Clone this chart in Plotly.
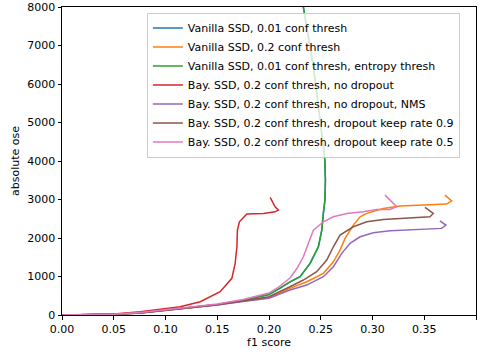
import plotly.graph_objects as go

names = [
    "Vanilla SSD, 0.01 conf thresh",
    "Vanilla SSD, 0.2 conf thresh",
    "Vanilla SSD, 0.01 conf thresh, entropy thresh",
    "Bay. SSD, 0.2 conf thresh, no dropout",
    "Bay. SSD, 0.2 conf thresh, no dropout, NMS",
    "Bay. SSD, 0.2 conf thresh, dropout keep rate 0.9",
    "Bay. SSD, 0.2 conf thresh, dropout keep rate 0.5",
]
colors = ["#1f77b4", "#ff7f0e", "#2ca02c", "#d62728", "#9467bd", "#8c564b", "#e377c2"]

green_f1 = [0, 0.03, 0.05, 0.0757, 0.10, 0.125, 0.15, 0.175, 0.20, 0.2107, 0.2203, 0.23, 0.2397,
            0.2477, 0.251, 0.2525, 0.2541, 0.2545, 0.254, 0.2525, 0.2429, 0.2332, 0.231]
green_ose = [0, 5, 20, 58, 125, 195, 275, 385, 530, 700, 860, 994, 1341,
             1772, 2205, 2639, 3000, 3503, 4000, 4400, 6443, 8000, 8400]

blue_f1 = list(green_f1)
blue_ose = list(green_ose)

orange_f1 = [0, 0.03, 0.05, 0.0757, 0.10, 0.125, 0.15, 0.175, 0.20, 0.2203, 0.2365, 0.2525, 0.2622,
             0.2686, 0.2735, 0.2815, 0.288, 0.2944, 0.3104, 0.3266, 0.349, 0.3716, 0.3765, 0.3700]
orange_ose = [0, 5, 18, 55, 120, 185, 265, 370, 450, 692, 864, 1082, 1383,
              1687, 1990, 2335, 2551, 2639, 2768, 2828, 2854, 2880, 2966, 3114]

red_f1 = [0, 0.03, 0.05, 0.0757, 0.101, 0.1142, 0.1336, 0.1528, 0.1641, 0.1673, 0.169, 0.1695,
          0.1714, 0.1786, 0.1946, 0.2059, 0.2091, 0.2059, 0.2011]
red_ose = [0, 8, 28, 86, 174, 215, 345, 605, 953, 1341, 1772, 2205,
           2421, 2621, 2639, 2680, 2724, 2810, 3054]

purple_f1 = [0, 0.03, 0.05, 0.0757, 0.10, 0.125, 0.15, 0.175, 0.20, 0.2203, 0.2365, 0.2525, 0.2622,
             0.2703, 0.2783, 0.288, 0.3008, 0.3169, 0.349, 0.3668, 0.3709, 0.3651]
purple_ose = [0, 5, 17, 52, 115, 180, 260, 350, 435, 649, 778, 994, 1253,
              1601, 1860, 2032, 2136, 2188, 2231, 2250, 2335, 2447]

brown_f1 = [0, 0.03, 0.05, 0.0757, 0.10, 0.125, 0.15, 0.175, 0.20, 0.2203, 0.2332, 0.2461, 0.2558,
            0.2622, 0.2686, 0.2815, 0.2944, 0.3104, 0.333, 0.3555, 0.3587, 0.3507]
brown_ose = [0, 5, 18, 55, 120, 185, 268, 365, 475, 734, 908, 1124, 1427,
             1772, 2076, 2291, 2421, 2483, 2525, 2551, 2639, 2795]

pink_f1 = [0, 0.03, 0.05, 0.0757, 0.10, 0.125, 0.15, 0.175, 0.20, 0.21, 0.2203, 0.2268, 0.2332,
           0.238, 0.2429, 0.2525, 0.2622, 0.2751, 0.2911, 0.304, 0.3169, 0.3234, 0.3121]
pink_ose = [0, 6, 22, 62, 130, 200, 285, 400, 570, 740, 960, 1200, 1513,
            1860, 2205, 2421, 2551, 2639, 2680, 2743, 2743, 2810, 3114]

series = [
    (blue_f1, blue_ose), (orange_f1, orange_ose), (green_f1, green_ose), (red_f1, red_ose),
    (purple_f1, purple_ose), (brown_f1, brown_ose), (pink_f1, pink_ose),
]

x_ticks = [0.00, 0.05, 0.10, 0.15, 0.20, 0.25, 0.30, 0.35, 0.40]
y_ticks = [0, 1000, 2000, 3000, 4000, 5000, 6000, 7000, 8000]

fig = go.Figure()
for name, color, (xs, ys) in zip(names, colors, series):
    fig.add_trace(go.Scatter(x=xs, y=ys, mode="lines", name=name,
                             line=dict(color=color, width=1.5)))

axis_common = dict(showline=True, linecolor="black", linewidth=1, mirror=True,
                   ticks="outside", ticklen=3.5, tickwidth=1, tickcolor="black",
                   showgrid=False, zeroline=False, automargin=False,
                   tickfont=dict(family="DejaVu Sans", size=11, color="black"))

fig.update_layout(
    width=488, height=356,
    margin=dict(l=62, r=12, t=7, b=41),
    paper_bgcolor="white", plot_bgcolor="white",
    font=dict(family="DejaVu Sans", size=11, color="black"),
    xaxis=dict(range=[0, 0.40], tickvals=x_ticks, tickformat=".2f",
               title=dict(text="f1 score", font=dict(size=11), standoff=3), **axis_common),
    yaxis=dict(range=[0, 8000], tickvals=y_ticks, tickformat="d",
               title=dict(text="absolute ose", font=dict(size=11), standoff=5), **axis_common),
    legend=dict(x=0.205, y=0.982, xanchor="left", yanchor="top",
                bgcolor="rgba(255,255,255,0.8)", bordercolor="#cccccc", borderwidth=1,
                font=dict(family="DejaVu Sans", size=11), tracegroupgap=0,
                itemwidth=30),
    showlegend=True,
)

fig.write_html("out.html")
